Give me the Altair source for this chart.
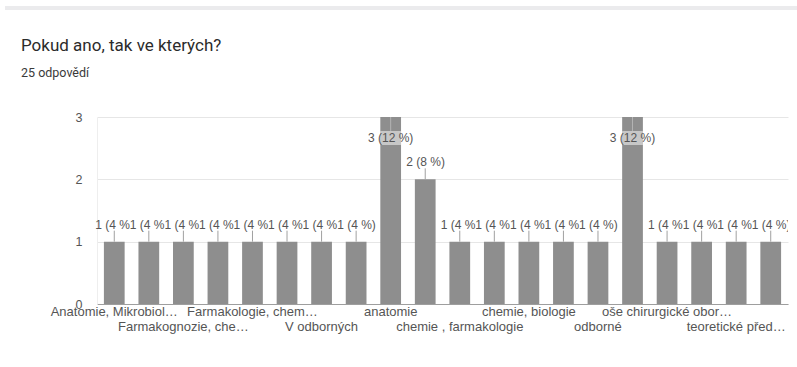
import altair as alt
import pandas as pd

# Response counts per answer, in the order shown on the axis
values = [1, 1, 1, 1, 1, 1, 1, 1, 3, 2, 1, 1, 1, 1, 1, 3, 1, 1, 1, 1]

# Axis labels; only every other answer gets a label on the axis
labels = [
    "Anatomie, Mikrobiol…", "", "Farmakognozie, che…", "", "Farmakologie, chem…", "",
    "V odborných", "", "anatomie", "", "chemie , farmakologie", "", "chemie, biologie", "",
    "odborné", "", "oše chirurgické obor…", "", "teoretické před…", "",
]

title_text = "Pokud ano, tak ve kterých?"
subtitle_text = "25 odpovědí"
y_ticks = [0, 0.5, 1, 1.5, 2, 2.5, 3]

FONT = "Liberation Sans"
BAR = "#8e8e8e"
W, H = 691, 187

df = pd.DataFrame({"idx": list(range(len(values))), "value": values, "label": labels})

x_enc = alt.X(
    "idx:O",
    scale=alt.Scale(paddingInner=0.4, paddingOuter=0.2),
    axis=alt.Axis(labels=False, ticks=False, title=None, domainColor="#9e9e9e", grid=False),
)
y_scale = alt.Scale(domain=[0, 3], nice=False, zero=True)

base = (
    alt.Chart(df)
    .transform_joinaggregate(total="sum(value)", vmax="max(value)")
    .transform_window(next="lead(value)", sort=[alt.SortField("idx")], frame=[None, None])
    .transform_calculate(
        txt="datum.value + ' (' + round(datum.value / datum.total * 100) + ' %)'"
    )
)

bars = base.mark_bar(color=BAR).encode(
    x=x_enc,
    y=alt.Y(
        "value:Q",
        scale=y_scale,
        title=None,
        axis=alt.Axis(
            values=y_ticks,
            labelExpr="datum.value % 1 === 0 ? format(datum.value, 'd') : ''",
            ticks=False,
            domainColor="#eeeeee",
            labelPadding=15,
            labelFontSize=12.5,
            labelColor="#555555",
            labelFont=FONT,
            gridColor={
                "condition": {"test": "datum.value % 1 === 0", "value": "#e6e6e6"},
                "value": "#f4f4f4",
            },
        ),
    ),
)

# Tallest bars carry their label inside, on a translucent box
inside_box = (
    base.transform_filter("datum.value === datum.vmax")
    .mark_bar(color="white", opacity=0.5, yOffset=14, y2Offset=28)
    .encode(x=alt.X("idx:O"), y=alt.Y("value:Q", scale=y_scale), y2="value:Q")
)

leader_out = (
    base.transform_filter("datum.value < datum.vmax")
    .mark_rule(color="#a0a0a0", y2Offset=-11)
    .encode(x=alt.X("idx:O"), y=alt.Y("value:Q", scale=y_scale), y2="value:Q")
)

leader_in = (
    base.transform_filter("datum.value === datum.vmax")
    .mark_rule(color="#b4b4b4", y2Offset=14)
    .encode(x=alt.X("idx:O"), y=alt.Y("value:Q", scale=y_scale), y2="value:Q")
)

label_style = dict(font=FONT, fontSize=12, color="#555555", align="left", dx=-19)

# Labels followed by a neighbour at the same height are cut short by it
label_cut = (
    base.transform_filter("datum.value < datum.vmax && datum.next === datum.value")
    .mark_text(dy=-13, baseline="alphabetic", limit=35.5, ellipsis="\u200b", **label_style)
    .encode(x=alt.X("idx:O"), y=alt.Y("value:Q", scale=y_scale), text="txt:N")
)

label_full = (
    base.transform_filter("datum.value < datum.vmax && datum.next !== datum.value")
    .mark_text(dy=-13, baseline="alphabetic", clip=True, **label_style)
    .encode(x=alt.X("idx:O"), y=alt.Y("value:Q", scale=y_scale), text="txt:N")
)

label_in = (
    base.transform_filter("datum.value === datum.vmax")
    .mark_text(font=FONT, fontSize=12, color="#555555", align="center", dy=25, baseline="alphabetic")
    .encode(x=alt.X("idx:O"), y=alt.Y("value:Q", scale=y_scale), text="txt:N")
)

axis_style = dict(font=FONT, fontSize=13, color="#555555", align="center", baseline="alphabetic")

row1 = (
    base.transform_filter("datum.idx % 4 === 0")
    .mark_text(**axis_style)
    .encode(x=alt.X("idx:O"), y=alt.value(H + 12), text="label:N")
)
row2 = (
    base.transform_filter("datum.idx % 4 === 2")
    .mark_text(**axis_style)
    .encode(x=alt.X("idx:O"), y=alt.value(H + 27), text="label:N")
)

one = pd.DataFrame({"k": [0]})

stripe = alt.Chart(one).mark_rect(color="#ebebed").encode(
    x=alt.value(-92), x2=alt.value(W + 9), y=alt.value(-111), y2=alt.value(-107)
)
title = alt.Chart(one).mark_text(
    font="Roboto", fontSize=17, color="#2b2b2b", align="left", baseline="alphabetic"
).encode(x=alt.value(-76), y=alt.value(-66), text=alt.value(title_text))
subtitle = alt.Chart(one).mark_text(
    font="Roboto", fontSize=12.5, color="#3a3a3a", align="left", baseline="alphabetic"
).encode(x=alt.value(-76), y=alt.value(-40), text=alt.value(subtitle_text))

chart = (
    alt.layer(
        bars, inside_box, leader_out, leader_in, label_cut, label_full, label_in,
        row1, row2, stripe, title, subtitle,
    )
    .properties(
        width=W,
        height=H,
        autosize=alt.AutoSizeParams(type="none"),
        padding={"left": 97, "top": 117, "right": 9, "bottom": 63},
        background="white",
    )
    .configure_view(strokeWidth=0)
)

chart.save("out.html", embed_options={"renderer": "svg", "actions": False})
